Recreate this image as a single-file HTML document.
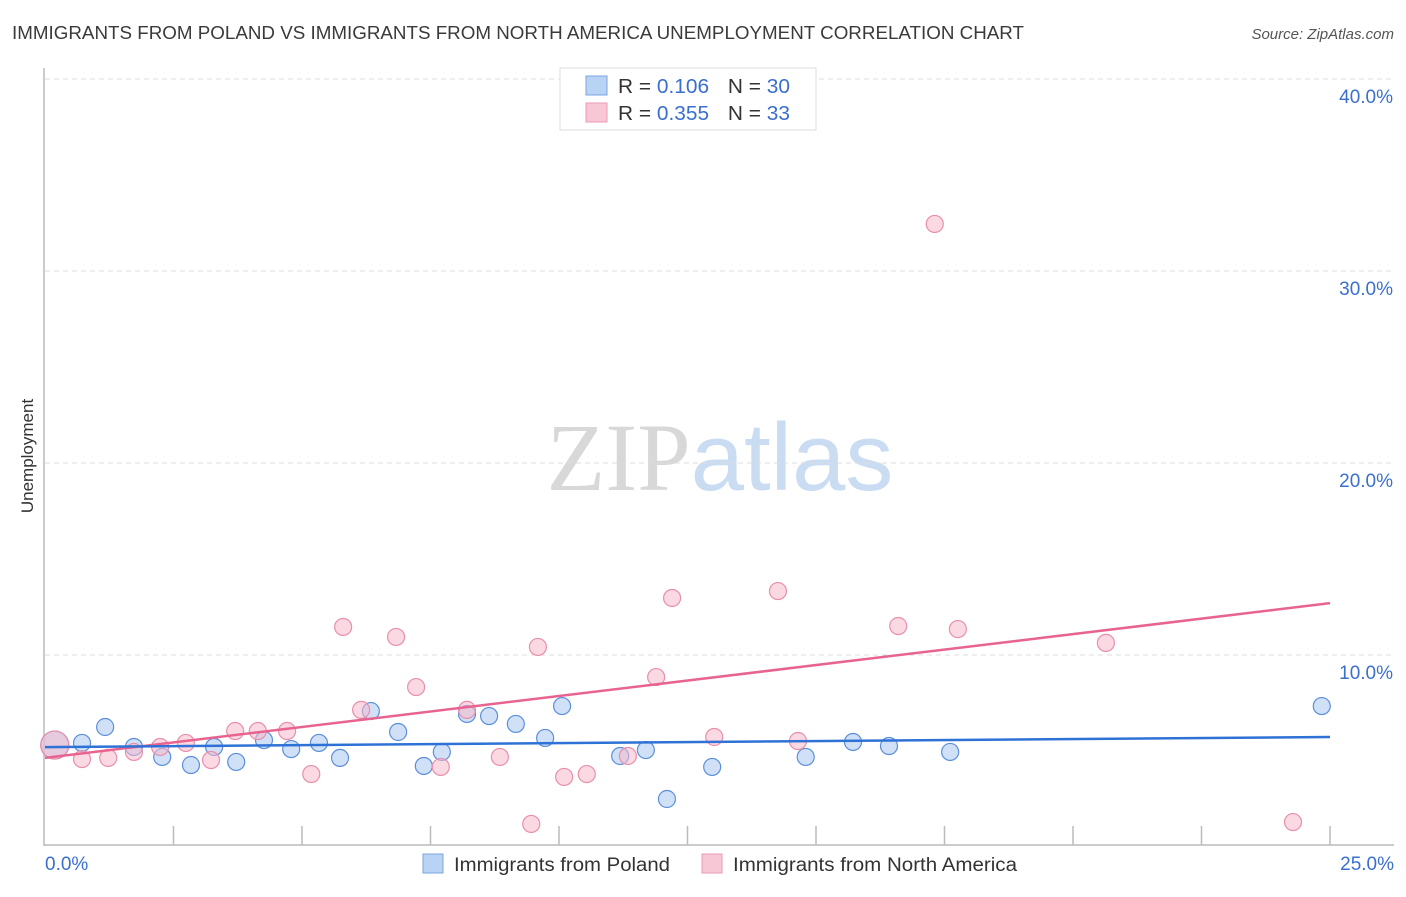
<!DOCTYPE html>
<html><head><meta charset="utf-8"><style>
body{margin:0;background:#fff;font-family:"Liberation Sans",sans-serif;}
svg text{font-family:"Liberation Sans",sans-serif;}
</style></head><body>
<svg id="chart" width="1406" height="892" xmlns="http://www.w3.org/2000/svg">
<text x="12" y="39" font-size="18" fill="#3a3a3a" textLength="1012" lengthAdjust="spacingAndGlyphs">IMMIGRANTS FROM POLAND VS IMMIGRANTS FROM NORTH AMERICA UNEMPLOYMENT CORRELATION CHART</text>
<text x="1394" y="39" font-size="15" fill="#555" font-style="italic" text-anchor="end">Source: ZipAtlas.com</text>
<text transform="translate(33,456) rotate(-90)" font-size="17" fill="#333" text-anchor="middle">Unemployment</text>
<text x="720" y="490" font-size="96" text-anchor="middle"><tspan fill="#d8d8d8" font-family="Liberation Serif">ZIP</tspan><tspan fill="#c9dcf2">atlas</tspan></text>
<g id="grid"></g><g id="axes"></g><g id="lines"></g><g id="pts"></g>
<g>
<rect x="560" y="68" width="256" height="62" fill="#fff" stroke="#ddd"/>
<rect x="586" y="76" width="21" height="19" fill="#b8d3f4" stroke="#7aa6e0"/>
<rect x="586" y="103" width="21" height="19" fill="#f8c7d6" stroke="#eb9bb5"/>
<text x="618" y="93" font-size="20" fill="#333" textLength="172" lengthAdjust="spacingAndGlyphs">R = <tspan fill="#3a6fd0">0.106</tspan><tspan dx="18">N = </tspan><tspan fill="#3a6fd0">30</tspan></text>
<text x="618" y="120" font-size="20" fill="#333" textLength="172" lengthAdjust="spacingAndGlyphs">R = <tspan fill="#3a6fd0">0.355</tspan><tspan dx="18">N = </tspan><tspan fill="#3a6fd0"> 33</tspan></text>
</g>
<g>
<rect x="423" y="854" width="20" height="19" fill="#b8d3f4" stroke="#7aa6e0"/>
<text x="454" y="871" font-size="19" fill="#333" textLength="216" lengthAdjust="spacingAndGlyphs">Immigrants from Poland</text>
<rect x="702" y="854" width="20" height="19" fill="#f8c7d6" stroke="#eb9bb5"/>
<text x="733" y="871" font-size="19" fill="#333" textLength="284" lengthAdjust="spacingAndGlyphs">Immigrants from North America</text>
</g>
</svg>
<script>
const yTicks=[10,20,30,40];
const xLabels=["0.0%","25.0%"];
const polandX=[0.19,0.72,1.17,1.73,2.28,2.84,3.29,3.72,4.26,4.79,5.33,5.74,6.34,6.87,7.37,7.72,8.21,8.64,9.16,9.73,10.06,11.19,11.69,12.10,12.98,14.80,15.72,16.42,17.61,24.84];
const polandY=[5.31,5.42,6.25,5.21,4.69,4.27,5.21,4.43,5.57,5.10,5.42,4.64,7.08,5.99,4.22,4.95,6.93,6.82,6.41,5.68,7.34,4.74,5.05,2.50,4.17,4.69,5.47,5.26,4.95,7.34];
const naX=[0.19,0.72,1.23,1.73,2.24,2.74,3.23,3.70,4.14,4.71,5.18,5.80,6.15,6.83,7.22,7.70,8.21,8.85,9.46,9.59,10.10,10.54,11.34,11.89,12.20,13.02,14.26,14.65,16.60,17.31,17.76,20.64,24.28];
const naY=[5.31,4.58,4.64,4.95,5.21,5.42,4.53,6.04,6.04,6.04,3.80,11.46,7.14,10.94,8.33,4.17,7.14,4.69,1.20,10.42,3.65,3.80,4.74,8.85,12.97,5.73,13.33,5.52,11.51,32.45,11.35,10.63,1.30];
const polandTrend=[5.2,5.73];
const naTrend=[4.64,12.7];
const NS="http://www.w3.org/2000/svg";
const X=v=>45+v/25*1285, Y=v=>847-v*19.2;
function mk(t,a,p){const e=document.createElementNS(NS,t);for(const k in a)e.setAttribute(k,a[k]);document.getElementById(p).appendChild(e);return e;}
yTicks.forEach(t=>{
 const l=mk('line',{x1:45,x2:1394,y1:Y(t),y2:Y(t),stroke:'#ddd','stroke-dasharray':'5,4'},'grid');
 
 
 const tx=mk('text',{x:1393,y:Y(t)+24,'font-size':19,fill:'#3a6fd0','text-anchor':'end'},'grid');
 tx.textContent=t.toFixed(1)+'%';
 
 
});
let a=mk('line',{x1:44,x2:44,y1:68,y2:846,stroke:'#bbb','stroke-width':1.5},'axes');


a=mk('line',{x1:44,x2:1394,y1:845,y2:845,stroke:'#bbb','stroke-width':1.5},'axes');


for(let i=1;i<=10;i++){const t=mk('line',{x1:X(i*2.5),x2:X(i*2.5),y1:826,y2:845,stroke:'#bbb','stroke-width':1.5},'axes');
 
 }
[[0,"start",45],[25,"end",1394]].forEach((d,i)=>{const t=mk('text',{x:d[2],y:870,'font-size':19,fill:'#3a6fd0','text-anchor':d[1]},'axes');t.textContent=xLabels[i];
 
 });
function pts(xs,ys,fill,stroke,name){xs.forEach((x,i)=>{const c=mk('circle',{cx:X(x),cy:Y(ys[i]),r:i==0?14:8.5,fill:fill,'fill-opacity':0.55,stroke:stroke,'stroke-width':1.2},'pts');
 
 });}
pts(polandX,polandY,'#aac9f0','#5b8fdb','poland-point');
pts(naX,naY,'#f7b9cc','#e88fac','north-america-point');
let l=mk('line',{x1:X(0),x2:X(25),y1:Y(naTrend[0]),y2:Y(naTrend[1]),stroke:'#e8638f','stroke-width':2.5},'lines');


l=mk('line',{x1:X(0),x2:X(25),y1:Y(polandTrend[0]),y2:Y(polandTrend[1]),stroke:'#2f72d6','stroke-width':2.5},'lines');


document.getElementById('chart').appendChild(document.getElementById('lines'));
</script>
</body></html>
